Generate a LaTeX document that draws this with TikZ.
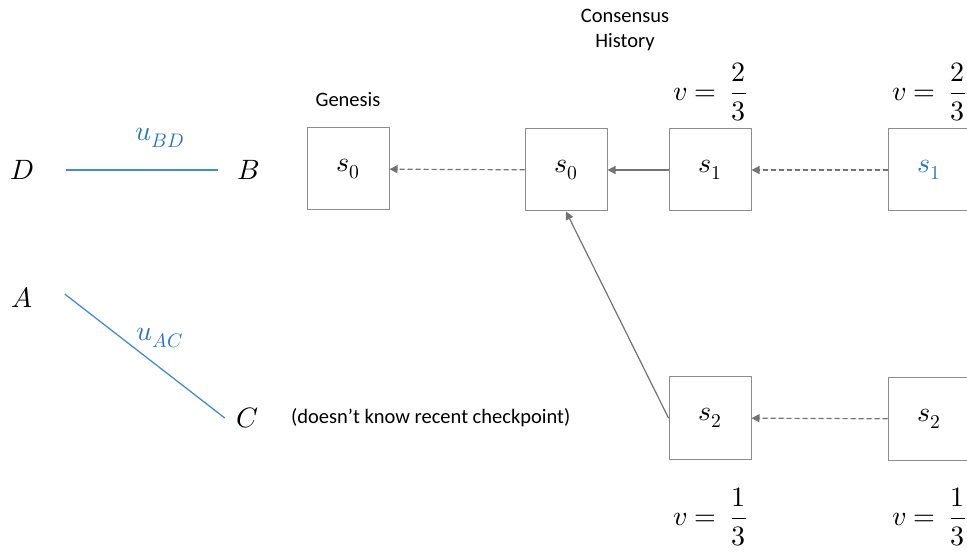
\documentclass[tikz,border=0pt]{standalone}
\usepackage{fontspec}
\usepackage{unicode-math}
\setmainfont{Carlito}
\usepackage{tikz}
\usetikzlibrary{arrows.meta, positioning}
\definecolor{edge}{RGB}{140, 140, 140}
\definecolor{arw}{RGB}{115, 115, 115}
\definecolor{link}{RGB}{46, 117, 190}
\definecolor{linkln}{RGB}{70, 140, 205}

\begin{document}
\begin{tikzpicture}[x=1pt, y=-1pt,
      blk/.style={draw=edge, line width=1pt, minimum size=82pt, inner sep=0pt,
                  font=\fontsize{28}{32}\selectfont},
      pt/.style={inner sep=0pt, font=\fontsize{28}{32}\selectfont},
      txtlbl/.style={inner sep=0pt, align=center, font=\fontsize{20.5}{25}\selectfont},
      uln/.style={draw=linkln, line width=1.3pt},
      ar/.style={-{Triangle[length=8pt, width=8pt]}, draw=arw, fill=arw, line width=1.2pt},
      dar/.style={ar, dash pattern=on 5pt off 3pt}]
      \useasboundingbox (0,0) rectangle (967,553);
      \clip (0,0) rectangle (967,553);
      % participants
      \node[pt] (d) at (22,170)  {$D$};
      \node[pt] (b) at (248,170) {$B$};
      \node[pt] (a) at (22,297)  {$A$};
      \node[pt] (c) at (248,418) {$C$};
      \draw[uln] ([xshift=32pt]d.east) -- ([xshift=-19pt]b.west);
      \draw[uln] ([xshift=32pt, yshift=3pt]a.east) -- ([xshift=-12pt]c.west);
      \node[pt, text=link] (ubd) at (160,138) {$u_{BD}$};
      \node[pt, text=link] (uac) at (160,338) {$u_{AC}$};
      \node[txtlbl, anchor=west] (note) at (291,418) {(doesn’t know recent checkpoint)};
      % checkpoints
      \node[blk] (gen) at (348,169) {$s_0$};
      \node[blk] (s0)  at (566,170) {$s_0$};
      \node[blk] (s1)  at (710,170) {$s_1$};
      \node[blk] (s1r) at (929,170) {\textcolor{link}{$s_1$}};
      \node[blk] (s2)  at (710,418) {$s_2$};
      \node[blk] (s2r) at (929,419) {$s_2$};
      \node[txtlbl] (genl) at (348,100) {Genesis};
      \node[txtlbl] (hist) at (625,30)  {Consensus\\History};
      \node[pt] (v1)  at (710,92)  {$v =\ \dfrac{2}{3}$};
      \node[pt] (v1r) at (929,92)  {$v =\ \dfrac{2}{3}$};
      \node[pt] (v2)  at (710,517) {$v =\ \dfrac{1}{3}$};
      \node[pt] (v2r) at (929,517) {$v =\ \dfrac{1}{3}$};
      \draw[dar] (s0) -- (gen);
      \draw[ar] (s1) -- (s0);
      \draw[dar] (s1r) -- (s1);
      \draw[dar] (s2r) -- (s2);
      \draw[ar] (s2.west) -- (s0.south);
    \end{tikzpicture}
\end{document}
